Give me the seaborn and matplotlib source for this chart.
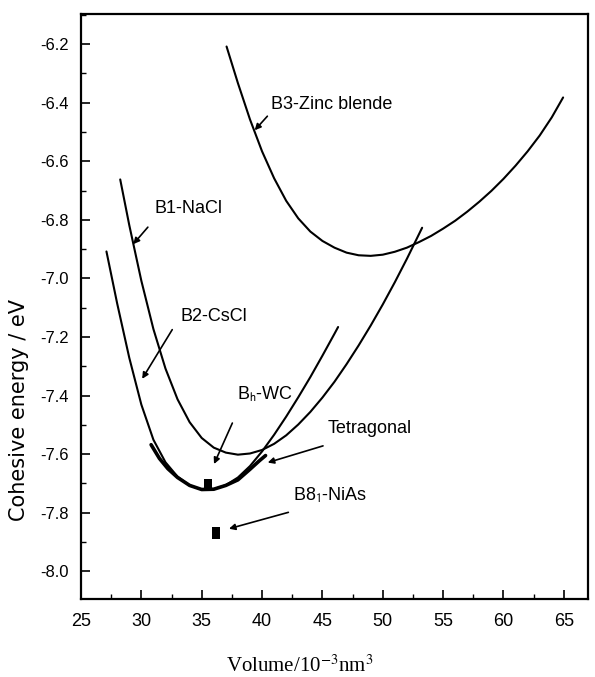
import matplotlib
matplotlib.use("Agg")
import matplotlib.pyplot as plt
import seaborn as sns
from matplotlib.ticker import FixedLocator, MultipleLocator

# ---------------- data ----------------
b3_volume = [37.06, 38, 39, 40, 41, 42, 43, 44, 45, 46, 47, 48, 49, 50, 51, 52,
             53, 54, 55, 56, 57, 58, 59, 60, 61, 62, 63, 64, 64.94]
b3_energy = [-6.208, -6.333, -6.457, -6.566, -6.658, -6.735, -6.795, -6.840,
             -6.872, -6.895, -6.912, -6.921, -6.923, -6.919, -6.909, -6.895,
             -6.876, -6.855, -6.830, -6.803, -6.772, -6.738, -6.701, -6.660,
             -6.615, -6.566, -6.512, -6.450, -6.382]

b1_volume = [28.25, 29, 30, 31, 32, 33, 34, 35, 36, 37, 38, 39, 40, 41, 42, 43,
             44, 45, 46, 47, 48, 49, 50, 51, 52, 53, 53.26]
b1_energy = [-6.662, -6.818, -7.008, -7.173, -7.308, -7.413, -7.491, -7.545,
             -7.578, -7.595, -7.602, -7.598, -7.586, -7.565, -7.536, -7.499,
             -7.456, -7.407, -7.353, -7.293, -7.229, -7.161, -7.089, -7.013,
             -6.933, -6.849, -6.827]

b2_volume = [27.11, 28, 29, 30, 31, 32, 33, 34, 35, 36, 37, 38, 39, 40, 41, 42,
             43, 44, 45, 46, 46.3]
b2_energy = [-6.908, -7.086, -7.271, -7.431, -7.551, -7.628, -7.677, -7.707,
             -7.721, -7.720, -7.706, -7.680, -7.641, -7.591, -7.534, -7.472,
             -7.406, -7.337, -7.264, -7.189, -7.166]

tet_volume = [30.81, 31.5, 32.2, 33, 34, 35, 36, 37, 38, 39, 39.8, 40.29]
tet_energy = [-7.568, -7.615, -7.650, -7.680, -7.707, -7.721, -7.720, -7.707,
              -7.688, -7.652, -7.622, -7.605]

wc_volume = [35.55]
wc_energy = [-7.706]
nias_volume = [36.19]
nias_energy = [-7.869]

x_ticks = [25, 30, 35, 40, 45, 50, 55, 60, 65]
x_tick_labels = ["25", "30", "35", "40", "45", "50", "55", "60", "65"]
y_ticks = [-8.0, -7.8, -7.6, -7.4, -7.2, -7.0, -6.8, -6.6, -6.4, -6.2]
y_tick_labels = ["-8.0", "-7.8", "-7.6", "-7.4", "-7.2", "-7.0", "-6.8",
                 "-6.6", "-6.4", "-6.2"]

labels = ["B3-Zinc blende", "B1-NaCl", "B2-CsCl", "B$_{\\mathrm{h}}$-WC",
          "Tetragonal", "B8$_{\\mathrm{1}}$-NiAs"]
label_xy = [(40.76, -6.405), (31.09, -6.760), (33.28, -7.130),
            (37.91, -7.395), (45.44, -7.514), (42.57, -7.741)]
arrow_tail = [(40.44, -6.446), (30.54, -6.825), (32.56, -7.175),
              (37.54, -7.494), (45.05, -7.572), (42.18, -7.799)]
arrow_head = [(39.39, -6.494), (29.33, -6.883), (30.07, -7.343),
              (36.02, -7.634), (40.47, -7.629), (37.26, -7.855)]

# ---------------- style ----------------
sns.set_theme(style="ticks")
plt.rcParams["font.family"] = ["Liberation Sans", "DejaVu Sans"]
plt.rcParams["axes.unicode_minus"] = False

fig = plt.figure(figsize=(5.95, 6.77), dpi=100)
fig.patch.set_facecolor("white")
ax = fig.add_axes([0.1361, 0.1152, 0.8521, 0.8641])
ax.set_facecolor("white")

for xs, ys, lw in [(b3_volume, b3_energy, 1.5), (b1_volume, b1_energy, 1.5),
                   (b2_volume, b2_energy, 1.5), (tet_volume, tet_energy, 2.6)]:
    sns.lineplot(x=xs, y=ys, ax=ax, color="black", lw=lw, sort=False,
                 estimator=None, solid_capstyle="round", solid_joinstyle="round")

rect = [(-0.33, -0.5), (0.33, -0.5), (0.33, 0.5), (-0.33, 0.5)]
sns.scatterplot(x=wc_volume, y=wc_energy, ax=ax, marker=rect, s=80,
                color="black", edgecolor="black", linewidth=0)
sns.scatterplot(x=nias_volume, y=nias_energy, ax=ax, marker=rect, s=75,
                color="black", edgecolor="black", linewidth=0)

for txt, (tx, ty) in zip(labels, label_xy):
    ax.text(tx, ty, txt, ha="left", va="center", fontsize=13, color="black",
            math_fontfamily="stixsans")

for (x0, y0), (x1, y1) in zip(arrow_tail, arrow_head):
    ax.annotate("", xy=(x1, y1), xytext=(x0, y0),
                arrowprops=dict(arrowstyle="-|>", color="black", lw=1.2,
                                mutation_scale=9, shrinkA=0, shrinkB=0))

ax.set_xlim(25, 67)
ax.set_ylim(-8.095, -6.097)
ax.xaxis.set_major_locator(FixedLocator(x_ticks))
ax.set_xticklabels(x_tick_labels)
ax.xaxis.set_minor_locator(MultipleLocator(2.5))
ax.yaxis.set_major_locator(FixedLocator(y_ticks))
ax.set_yticklabels(y_tick_labels)
ax.yaxis.set_minor_locator(MultipleLocator(0.1))

ax.tick_params(which="major", direction="in", length=6.5, width=1.2,
               color="black", labelcolor="black")
ax.tick_params(which="minor", direction="in", length=3.5, width=1.0, color="black")
ax.tick_params(axis="x", which="major", labelsize=13, pad=10)
ax.tick_params(axis="y", which="major", labelsize=12, pad=9)
ax.tick_params(top=False, right=False, which="both")

for sp in ax.spines.values():
    sp.set_visible(True)
    sp.set_linewidth(1.6)
    sp.set_color("black")

ax.set_xlabel("Volume/10$^{-3}$nm$^{3}$", fontsize=15, color="black",
              fontfamily=["Liberation Serif", "DejaVu Serif"], math_fontfamily="stix")
ax.xaxis.set_label_coords(0.432, -0.0957)
ax.set_ylabel("Cohesive energy / eV", fontsize=15, color="black",
              fontfamily=["DejaVu Sans"], va="center")
ax.yaxis.set_label_coords(-0.122, 0.323)

fig.savefig("out.png", dpi=100, facecolor="white")
